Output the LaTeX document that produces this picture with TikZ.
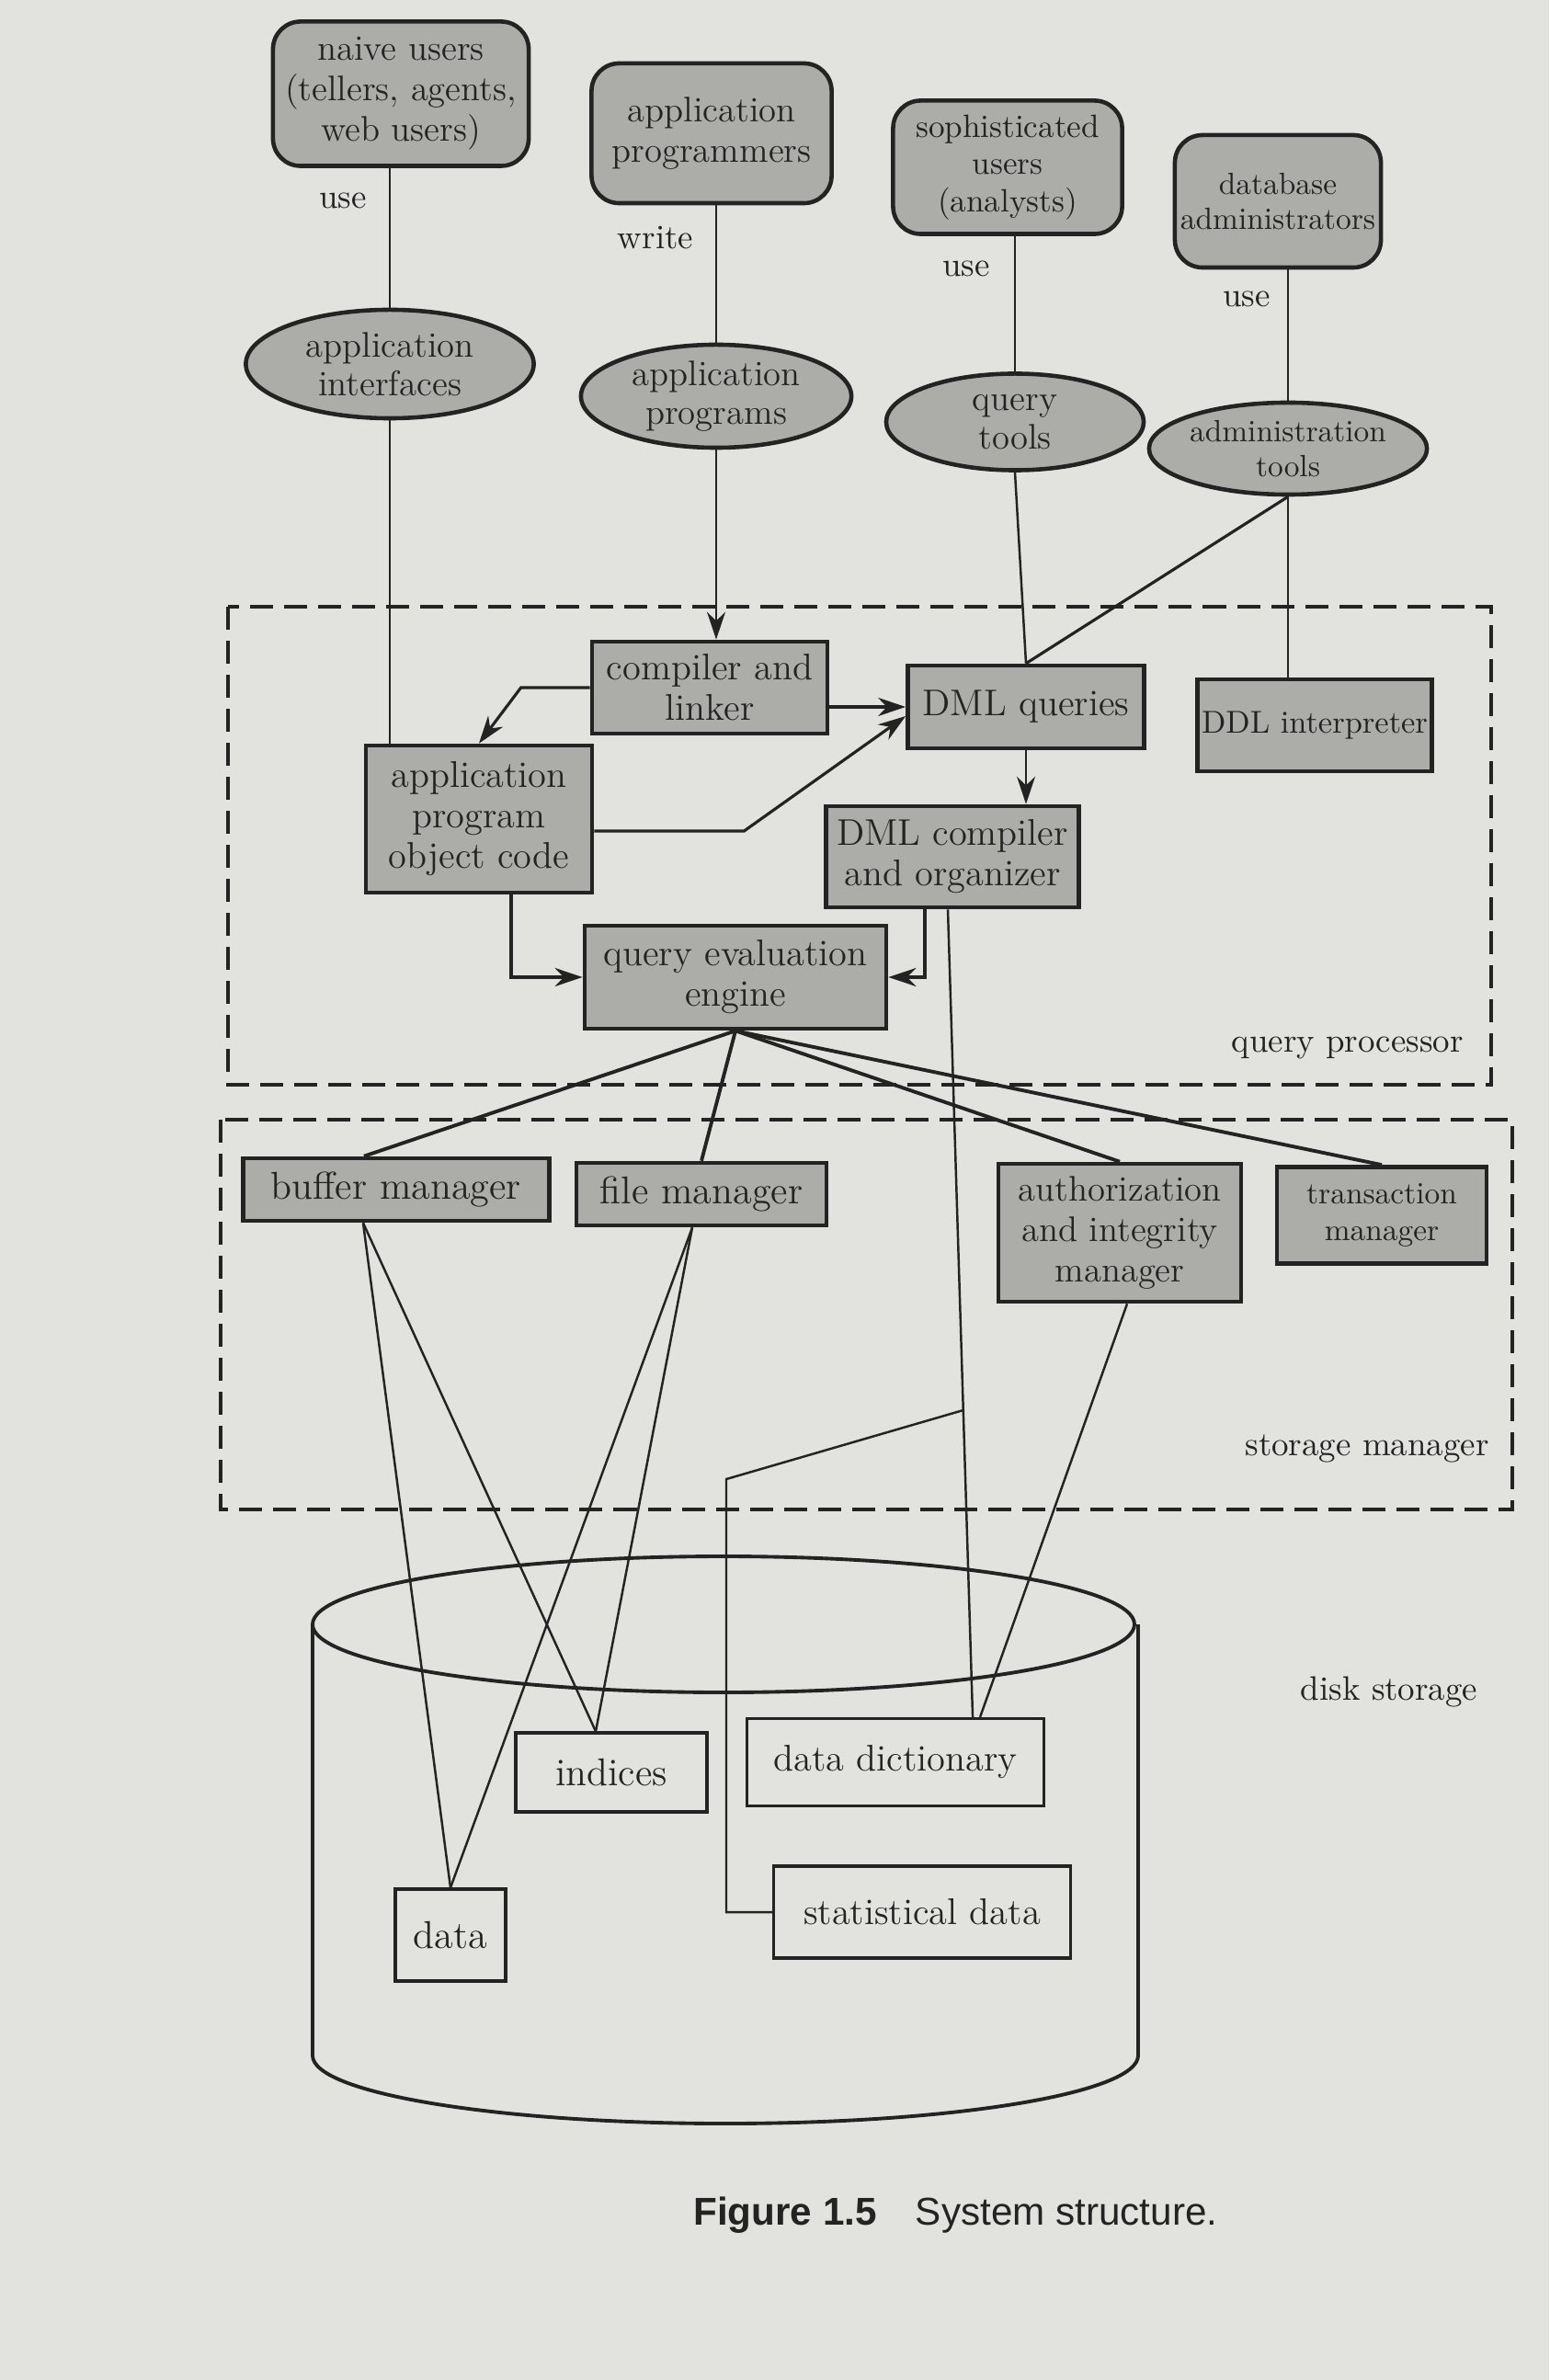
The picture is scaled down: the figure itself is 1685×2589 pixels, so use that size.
\documentclass[tikz,border=0pt]{standalone}
\usepackage{fontspec}
\newfontfamily\capfont{Liberation Sans}
\usetikzlibrary{shapes.geometric,arrows.meta,calc}
\definecolor{paper}{RGB}{226,226,223}
\definecolor{boxgray}{RGB}{172,172,169}
\definecolor{ink}{RGB}{35,35,35}
\begin{document}
\begin{tikzpicture}[x=0.01cm,y=-0.01cm,
  every node/.style={text=ink},
  userbox/.style={draw=ink, line width=1.3pt, fill=boxgray, rounded corners=0.3cm, align=center, inner sep=0pt, font=\fontsize{11}{12.5}\selectfont},
  toolell/.style={ellipse, draw=ink, line width=1.3pt, fill=boxgray, align=center, inner sep=0pt, font=\fontsize{11}{12}\selectfont},
  procbox/.style={draw=ink, line width=1.3pt, fill=boxgray, align=center, inner sep=0pt, font=\fontsize{11.5}{12.5}\selectfont},
  diskbox/.style={draw=ink, line width=0.9pt, align=center, inner sep=0pt, font=\fontsize{11.5}{13}\selectfont},
  conn/.style={draw=ink, line width=0.7pt},
  heavyconn/.style={draw=ink, line width=1.1pt},
  arr/.style={draw=ink, line width=0.9pt, -{Stealth[length=0.3cm,width=0.2cm]}},
  region/.style={draw=ink, line width=1.1pt, dash pattern=on 0.25cm off 0.12cm},
  lbl/.style={font=\fontsize{10.5}{12}\selectfont}
]
\fill[paper] (0,0) rectangle (1685,2589);
\useasboundingbox (0,0) rectangle (1685,2589);

% regions
\draw[region] (248,660) rectangle (1622,1180);
\draw[region] (240,1218) rectangle (1645,1642);
\node[lbl, anchor=east] (qplbl) at (1604,1140) {query processor};
\node[lbl, anchor=east] (smlbl) at (1632,1576) {storage manager};

% users
\node[userbox, minimum width=2.78cm, minimum height=1.57cm] (nu) at (436,102) {naive users\\(tellers, agents,\\web users)};
\node[userbox, minimum width=2.61cm, minimum height=1.52cm] (ap) at (774,145) {application\\programmers};
\node[userbox, minimum width=2.49cm, minimum height=1.45cm, font=\fontsize{10}{11.5}\selectfont] (su) at (1096,182) {sophisticated\\users\\(analysts)};
\node[userbox, minimum width=2.24cm, minimum height=1.44cm, font=\fontsize{9.5}{11}\selectfont] (dba) at (1390,219) {database\\administrators};

% tools
\node[toolell, minimum width=3.13cm, minimum height=1.18cm] (ai) at (424,396) {application\\interfaces};
\node[toolell, minimum width=2.94cm, minimum height=1.12cm] (apg) at (779,431) {application\\programs};
\node[toolell, minimum width=2.80cm, minimum height=1.05cm] (qt) at (1104,459) {query\\tools};
\node[toolell, minimum width=2.50cm, minimum height=1.00cm, font=\fontsize{9.5}{11}\selectfont] (at) at (1401,488) {administration\\tools};

\node[lbl] (use1) at (373,218) {use};
\node[lbl] (write1) at (713,259) {write};
\node[lbl] (use2) at (1051,292) {use};
\node[lbl] (use3) at (1356,325) {use};

% query processor boxes
\node[procbox, minimum width=2.56cm, minimum height=1.00cm] (cl) at (772,748) {compiler and\\linker};
\node[procbox, minimum width=2.57cm, minimum height=0.90cm] (dq) at (1116,769) {DML queries};
\node[procbox, minimum width=2.55cm, minimum height=1.00cm, font=\fontsize{9.8}{11}\selectfont] (ddl) at (1430,789) {DDL interpreter};
\node[procbox, minimum width=2.46cm, minimum height=1.60cm] (apc) at (521,891) {application\\program\\object code};
\node[procbox, minimum width=2.75cm, minimum height=1.10cm] (dmlc) at (1036,932) {DML compiler\\and organizer};
\node[procbox, minimum width=3.28cm, minimum height=1.12cm] (qe) at (800,1063) {query evaluation\\engine};

% storage manager boxes
\node[procbox, minimum width=3.33cm, minimum height=0.68cm, font=\fontsize{12}{13}\selectfont] (bm) at (431,1294) {buffer manager};
\node[procbox, minimum width=2.72cm, minimum height=0.68cm, font=\fontsize{12}{13}\selectfont] (fm) at (763,1299) {file manager};
\node[procbox, minimum width=2.64cm, minimum height=1.50cm, font=\fontsize{11}{12.5}\selectfont] (aim) at (1218,1341) {authorization\\and integrity\\manager};
\node[procbox, minimum width=2.28cm, minimum height=1.05cm, font=\fontsize{9.5}{11.5}\selectfont] (tm) at (1503,1322) {transaction\\manager};

% disk
\draw[ink, line width=1.1pt] (787,1767) ellipse [x radius=447, y radius=74];
\draw[ink, line width=1.1pt] (340,1767) -- (340,2236) arc[start angle=180, end angle=0, x radius=449, y radius=74] -- (1238,1767);
\node[lbl] (dslbl) at (1511,1840) {disk storage};

\node[diskbox, minimum width=2.08cm, minimum height=0.86cm, font=\fontsize{12}{13}\selectfont] (idx) at (665,1928) {indices};
\node[diskbox, minimum width=3.23cm, minimum height=0.95cm] (dd) at (974,1917) {data dictionary};
\node[diskbox, minimum width=3.23cm, minimum height=1.00cm] (stat) at (1003,2080) {statistical data};
\node[diskbox, minimum width=1.20cm, minimum height=1.00cm, font=\fontsize{12}{13}\selectfont] (data) at (490,2105) {data};

% upper connectors
\draw[conn] (ai.north |- nu.south) -- (ai.north);
\draw[conn] (ai.south) -- (ai.south |- apc.north);
\draw[conn] (apg.north |- ap.south) -- (apg.north);
\draw[arr, line width=0.7pt] (apg.south) -- (apg.south |- cl.north);
\draw[conn] (qt.north |- su.south) -- (qt.north);
\draw[conn] (qt.south) -- (dq.north);
\draw[conn] (at.north |- dba.south) -- (at.north);
\draw[conn] (at.south) -- (at.south |- ddl.north);
\draw[conn, line width=0.9pt] (at.south) -- (dq.north);

% query processor arrows
\draw[arr] (cl.west) -- ++(-75,0) -- (apc.north);
\draw[arr] (cl.east |- dq.west) -- (dq.west);
\draw[arr] ([yshift=-0.13cm]apc.east) -- ++(163,0) -- ([yshift=-0.1cm]dq.west);
\draw[arr, line width=0.7pt] (dq.south) -- (dq.south |- dmlc.north);
\draw[arr] ([xshift=0.35cm]apc.south) -- ([xshift=0.35cm]apc.south |- qe.west) -- (qe.west);
\draw[arr] ([xshift=-0.3cm]dmlc.south) -- ([xshift=-0.3cm]dmlc.south |- qe.east) -- (qe.east);

% query evaluation engine to storage manager
\draw[heavyconn] (qe.south) -- ([xshift=-0.35cm]bm.north);
\draw[heavyconn] (qe.south) -- (fm.north);
\draw[heavyconn] (qe.south) -- (aim.north);
\draw[heavyconn] (qe.south) -- (tm.north);

% storage manager to disk
\coordinate (bmfoot) at ([xshift=-0.36cm]bm.south);
\coordinate (fmfoot) at ([xshift=-0.1cm]fm.south);
\coordinate (idxtop) at ([xshift=-0.17cm]idx.north);
\draw[conn] (bmfoot) -- (data.north);
\draw[conn] (bmfoot) -- (idxtop);
\draw[conn] (fmfoot) -- (idxtop);
\draw[conn] (fmfoot) -- (data.north);
\coordinate (ddtopa) at ([xshift=0.84cm]dd.north);
\coordinate (ddtopb) at ([xshift=0.92cm]dd.north);
\draw[conn] ([xshift=0.08cm]aim.south) -- (ddtopb);
\coordinate (dmlfoot) at ([xshift=-0.05cm]dmlc.south);
\draw[conn] (dmlfoot) -- (ddtopa);
\coordinate (jn) at ($(dmlfoot)!0.62!(ddtopa)$);
\coordinate (bend) at (790,1609);
\draw[conn] (jn) -- (bend) -- (bend |- stat.west) -- (stat.west);

% caption
\node[font=\capfont\fontsize{12}{14}\selectfont, anchor=west] (cap) at (742,2410) {\textbf{Figure 1.5}\quad System structure.};
\end{tikzpicture}
\end{document}
